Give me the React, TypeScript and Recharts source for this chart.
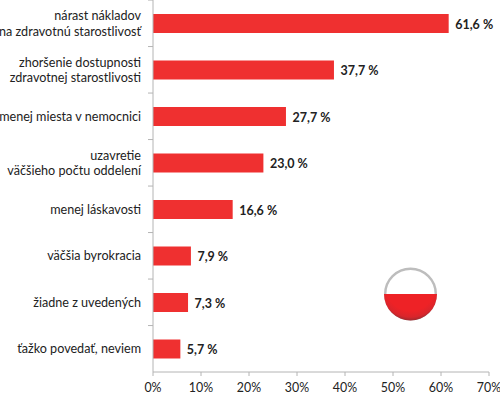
import { BarChart, Bar, XAxis, YAxis, LabelList } from 'recharts';

const categories = [
  'nárast nákladov\nna zdravotnú starostlivosť',
  'zhoršenie dostupnosti\nzdravotnej starostlivosti',
  'menej miesta v nemocnici',
  'uzavretie\nväčšieho počtu oddelení',
  'menej láskavosti',
  'väčšia byrokracia',
  'žiadne z uvedených',
  'ťažko povedať, neviem',
];
const values = [61.6, 37.7, 27.7, 23.0, 16.6, 7.9, 7.3, 5.7];
const xTicks = [0, 10, 20, 30, 40, 50, 60, 70];

const chartData = categories.map((name, i) => ({ name, value: values[i] }));

const FONT = 'Lato, sans-serif';
const AXIS_COLOR = '#b4b4b4';
const BAND = 46.4;

function CategoryTick({ y, payload }: any) {
  const lines = String(payload.value).split('\n');
  const startY = y - ((lines.length - 1) * 15.5) / 2 + 4.5;
  return (
    <g>
      <line x1={148} x2={153} y1={y - BAND / 2} y2={y - BAND / 2} stroke={AXIS_COLOR} />
      <text textAnchor="end" fontFamily={FONT} fontSize={12.6} fill="#222">
        {lines.map((line, i) => (
          <tspan key={i} x={141} y={startY + i * 15.5}>
            {line}
          </tspan>
        ))}
      </text>
    </g>
  );
}

function ValueLabel({ x, y, width, height, value }: any) {
  return (
    <text
      x={x + width + 6.5}
      y={y + height / 2 + 5}
      fontFamily={FONT}
      fontSize={12.5}
      fontWeight={700}
      fill="#222"
    >
      {`${Number(value).toFixed(1).replace('.', ',')} %`}
    </text>
  );
}

function Flag() {
  return (
    <svg width={60} height={60} style={{ position: 'absolute', left: 380, top: 264 }}>
      <defs>
        <clipPath id="lowerHalf">
          <rect x={0} y={30} width={61} height={30} />
        </clipPath>
        <radialGradient id="redFill" cx="50%" cy="35%" r="65%">
          <stop offset="72%" stopColor="#ee2226" />
          <stop offset="90%" stopColor="#d9252b" />
          <stop offset="100%" stopColor="#9e2a2f" />
        </radialGradient>
      </defs>
      <circle cx={30.5} cy={30} r={25.3} fill="#fff" stroke="#bdbdbd" strokeWidth={2.4} />
      <circle cx={30.5} cy={30} r={26.5} fill="url(#redFill)" clipPath="url(#lowerHalf)" />
    </svg>
  );
}

export default function App() {
  return (
    <div style={{ position: 'absolute', left: 0, top: 0, width: 500, height: 395, background: '#fff' }}>
      <BarChart
        width={500}
        height={395}
        data={chartData}
        layout="vertical"
        margin={{ top: 0, right: 11, bottom: 0, left: 0 }}
      >
        <XAxis
          type="number"
          domain={[0, 70]}
          ticks={xTicks}
          tickFormatter={(v) => `${v}%`}
          height={23}
          tick={{ fontSize: 12.4, fontFamily: FONT, fill: '#222' }}
          tickSize={4}
          tickMargin={7}
          stroke={AXIS_COLOR}
          interval={0}
        />
        <YAxis
          type="category"
          dataKey="name"
          width={153}
          tick={CategoryTick}
          tickLine={false}
          stroke={AXIS_COLOR}
          interval={0}
        />
        <Bar dataKey="value" fill="#ef3030" barSize={19} isAnimationActive={false}>
          <LabelList dataKey="value" content={ValueLabel} />
        </Bar>
      </BarChart>
      <Flag />
    </div>
  );
}
